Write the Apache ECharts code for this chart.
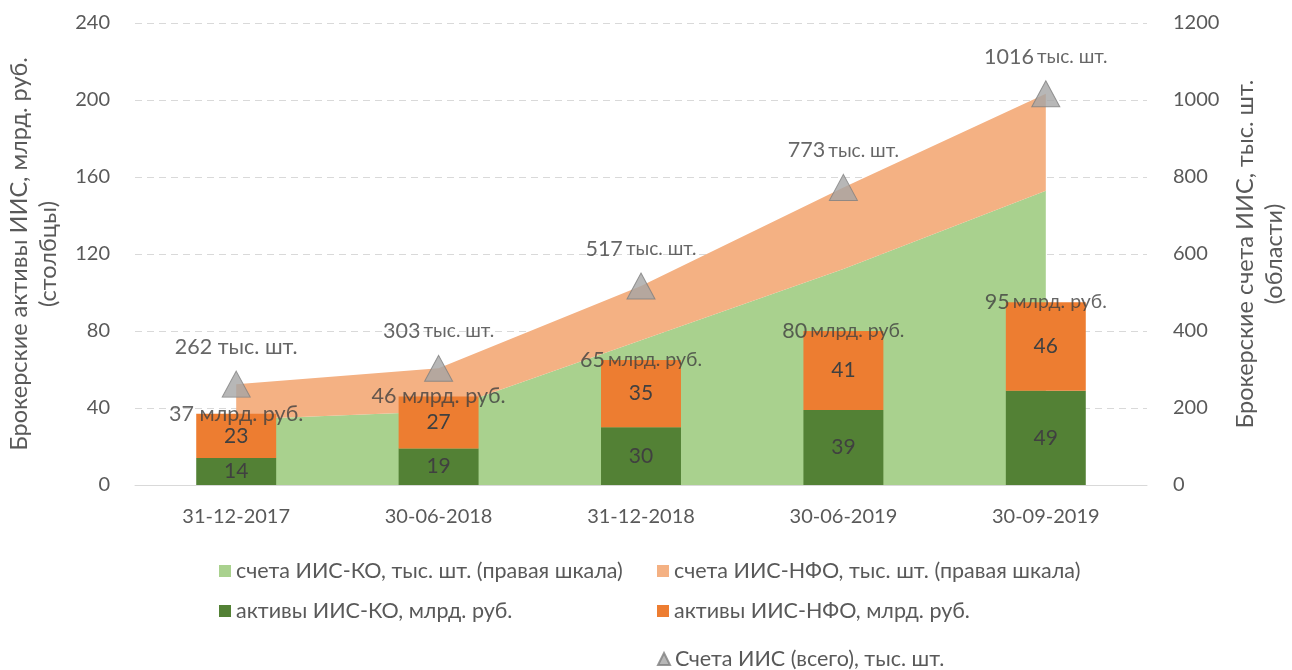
<!DOCTYPE html>
<html><head><meta charset="utf-8">
<script src="https://cdn.jsdelivr.net/npm/echarts@6/dist/echarts.min.js"></script>
<style>html,body{margin:0;padding:0;background:#fff}#c{width:1292px;height:670px}</style>
</head><body><div id="c"></div>
<script>
const categories = ['31-12-2017', '30-06-2018', '31-12-2018', '30-06-2019', '30-09-2019'];
const assetsKO = [14, 19, 30, 39, 49];
const assetsNFO = [23, 27, 35, 41, 46];
const accountsKO = [170, 191, 376, 561, 764];
const accountsNFO = [92, 112, 141, 212, 252];
const accountsTotal = [262, 303, 517, 773, 1016];
const assetsTotal = assetsKO.map((v, i) => v + assetsNFO[i]);

const N_KOACC = 'счета ИИС-КО, тыс. шт. (правая шкала)';
const N_NFOACC = 'счета ИИС-НФО, тыс. шт. (правая шкала)';
const N_KOAS = 'активы ИИС-КО, млрд. руб.';
const N_NFOAS = 'активы ИИС-НФО, млрд. руб.';
const N_TOT = 'Счета ИИС (всего), тыс. шт.';

const FONT = 'Lato';
const TXT = '#595959';
const LBL = '#404040';

const chart = echarts.init(document.getElementById('c'), null, {renderer: 'canvas'});
const legendBase = {
  orient: 'vertical', itemWidth: 12, itemHeight: 12, itemGap: 18, padding: 0,
  textStyle: {color: TXT, fontSize: 21.5, fontFamily: FONT, lineHeight: 22},
  selectedMode: false
};
chart.setOption({
  animation: false,
  textStyle: {fontFamily: FONT},
  grid: {left: 135, right: 145, top: 23, bottom: 185, containLabel: false, outerBoundsMode: 'none'},
  legend: [
    Object.assign({}, legendBase, {left: 219, top: 560, data: [{name: N_KOACC, icon: 'rect'}, {name: N_KOAS, icon: 'rect'}]}),
    Object.assign({}, legendBase, {left: 657, top: 560, data: [{name: N_NFOACC, icon: 'rect'}, {name: N_NFOAS, icon: 'rect'}]}),
    Object.assign({}, legendBase, {left: 657, top: 648, data: [{name: N_TOT, icon: 'triangle'}]})
  ],
  xAxis: {
    type: 'category', data: categories,
    axisLine: {lineStyle: {color: '#d9d9d9', width: 1}},
    axisTick: {show: false},
    axisLabel: {color: TXT, fontSize: 20, fontFamily: FONT, margin: 22}
  },
  yAxis: [
    {
      type: 'value', min: 0, max: 240, interval: 40,
      name: 'Брокерские активы ИИС, млрд. руб.\n(столбцы)',
      nameLocation: 'middle', nameRotate: 90, nameGap: 72,
      nameTextStyle: {color: TXT, fontSize: 23.5, fontFamily: FONT, lineHeight: 29, align: 'center'},
      axisLine: {show: false}, axisTick: {show: false},
      axisLabel: {color: TXT, fontSize: 20, fontFamily: FONT, margin: 25},
      splitLine: {lineStyle: {color: '#d9d9d9', type: [7, 5], width: 1}}
    },
    {
      type: 'value', min: 0, max: 1200, interval: 200,
      name: 'Брокерские счета ИИС, тыс. шт.\n(области)',
      nameLocation: 'middle', nameRotate: 90, nameGap: 84,
      nameTextStyle: {color: TXT, fontSize: 23.5, fontFamily: FONT, lineHeight: 29, align: 'center'},
      axisLine: {show: false}, axisTick: {show: false},
      axisLabel: {color: TXT, fontSize: 20, fontFamily: FONT, margin: 26, formatter: v => String(v)},
      splitLine: {show: false}
    }
  ],
  series: [
    {
      name: N_KOACC, type: 'line', yAxisIndex: 1, stack: 'acc', data: accountsKO,
      showSymbol: false, symbol: 'none', lineStyle: {width: 0}, color: '#A9D18E',
      areaStyle: {color: '#A9D18E', opacity: 1}, z: 1
    },
    {
      name: N_NFOACC, type: 'line', yAxisIndex: 1, stack: 'acc', data: accountsNFO,
      showSymbol: false, symbol: 'none', lineStyle: {width: 0}, color: '#F4B183',
      areaStyle: {color: '#F4B183', opacity: 1}, z: 1
    },
    {
      name: N_KOAS, type: 'bar', yAxisIndex: 0, stack: 'assets', data: assetsKO,
      barWidth: '39.5%', itemStyle: {color: '#538135'}, z: 3,
      label: {show: true, position: 'inside', color: LBL, fontSize: 21, fontFamily: FONT}
    },
    {
      name: N_NFOAS, type: 'bar', yAxisIndex: 0, stack: 'assets', data: assetsNFO,
      itemStyle: {color: '#ED7D31'}, z: 3,
      label: {show: true, position: 'inside', color: LBL, fontSize: 21, fontFamily: FONT}
    },
    {
      name: 'totalAssets', type: 'scatter', yAxisIndex: 0, data: assetsTotal,
      symbolSize: 2, itemStyle: {color: 'rgba(0,0,0,0)'}, z: 5, silent: true,
      labelLayout: {hideOverlap: false},
      label: {
        show: true, position: 'inside', offset: [0, 2],
        formatter: p => p.dataIndex < 2 ? '{n|' + p.value + ' млрд. руб.}' : '{n|' + p.value + '} {u|млрд. руб.}',
        rich: {
          n: {fontSize: 21.5, color: LBL, fontFamily: FONT},
          u: {fontSize: 19.5, color: LBL, fontFamily: FONT}
        }
      }
    },
    {
      name: N_TOT, type: 'scatter', yAxisIndex: 1, data: accountsTotal,
      symbol: 'triangle', symbolSize: [28, 26],
      itemStyle: {color: '#A5A5A5', borderColor: '#7F7F7F', borderWidth: 1}, z: 6,
      label: {
        show: true, position: 'inside', offset: [0, -37],
        formatter: p => p.dataIndex < 1 ? '{n|' + p.value + ' тыс. шт.}' : '{n|' + p.value + '} {u|тыс. шт.}',
        rich: {
          n: {fontSize: 21.5, color: LBL, fontFamily: FONT},
          u: {fontSize: 19, color: LBL, fontFamily: FONT}
        }
      }
    }
  ]
});
</script></body></html>
